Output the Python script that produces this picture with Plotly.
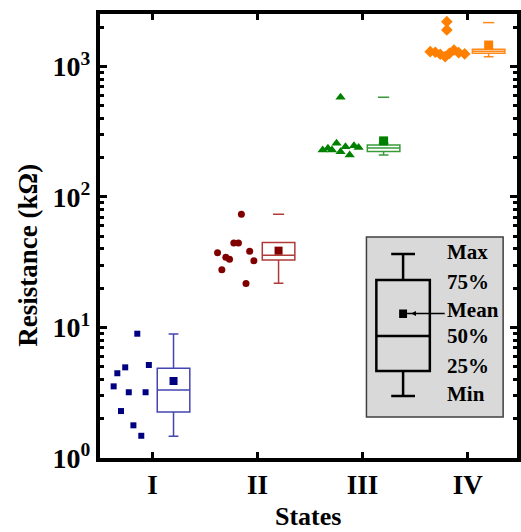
import plotly.graph_objects as go

# ---------------- data ----------------
categories = ["I", "II", "III", "IV"]
cat_pos = [1, 2, 3, 4]

vals_I = [8.96, 5.16, 4.95, 4.46, 3.54, 3.19, 3.19, 2.29, 1.78, 1.48]
jit_I = [-0.145, -0.035, -0.26, -0.335, -0.37, -0.226, -0.066, -0.30, -0.182, -0.107]
vals_II = [73.7, 44.4, 44.4, 37.4, 34.5, 33.3, 38.4, 32.5, 27.7, 21.7]
jit_II = [-0.154, -0.226, -0.182, -0.381, -0.302, -0.267, -0.075, -0.035, -0.340, -0.110]
vals_III = [229, 236, 229, 258, 222, 243, 210, 247, 239, 581]
jit_III = [-0.380, -0.330, -0.292, -0.248, -0.210, -0.163, -0.123, -0.082, -0.038, -0.210]
vals_IV = [1298, 1285, 1240, 1189, 1262, 1337, 1276, 1247, 2204, 1905]
jit_IV = [-0.356, -0.308, -0.261, -0.214, -0.173, -0.130, -0.085, -0.028, -0.198, -0.198]

# box statistics
box_q1 = [2.25, 32.9, 223, 1262]
box_med = [3.32, 35.8, 237, 1307]
box_q3 = [4.87, 44.7, 250, 1355]
box_low = [1.47, 21.8, 210, 1189]
box_high = [8.9, 44.7, 258, 1337]
box_mean = [3.89, 38.8, 269, 1460]
box_max = [None, 73.7, 581, 2168]

y_tickvals = [1, 10, 100, 1000]
y_ticktext = ["10<sup>0</sup>", "10<sup>1</sup>", "10<sup>2</sup>", "10<sup>3</sup>"]

# ---------------- styles ----------------
pt_colors = ["#000080", "#800000", "#008000", "#FF8000"]
box_colors = ["#4545B0", "#B03A3A", "#3A9A3A", "#FF8A1A"]
pt_symbols = ["square", "circle", "triangle-up", "diamond"]
pt_sizes = [6, 7, 9, 9]
mean_sizes = [8, 8, 9, 9]
BOX_OFF = 0.2
FONT = "Liberation Serif"

groups = [(vals_I, jit_I), (vals_II, jit_II), (vals_III, jit_III), (vals_IV, jit_IV)]

fig = go.Figure()

for i, (vals, jit) in enumerate(groups):
    fig.add_trace(go.Scatter(
        x=[cat_pos[i] + j for j in jit], y=vals, mode="markers",
        marker=dict(symbol=pt_symbols[i], size=pt_sizes[i], color=pt_colors[i], line=dict(width=0)),
        showlegend=False, hoverinfo="y"))
    fig.add_trace(go.Box(
        x=[cat_pos[i] + BOX_OFF], q1=[box_q1[i]], median=[box_med[i]], q3=[box_q3[i]],
        lowerfence=[box_low[i]], upperfence=[box_high[i]],
        width=0.31, whiskerwidth=0.3, boxpoints=False,
        line=dict(color=box_colors[i], width=1.5), fillcolor="rgba(255,255,255,1)",
        showlegend=False))
    fig.add_trace(go.Scatter(
        x=[cat_pos[i] + BOX_OFF], y=[box_mean[i]], mode="markers",
        marker=dict(symbol="square", size=mean_sizes[i], color=pt_colors[i], line=dict(width=0)),
        showlegend=False))
    if box_max[i] is not None:
        fig.add_trace(go.Scatter(
            x=[cat_pos[i] + BOX_OFF], y=[box_max[i]], mode="markers",
            marker=dict(symbol="line-ew", size=8, line=dict(color=box_colors[i], width=1.5)),
            showlegend=False))

# ---------------- layout ----------------
W, H = 521, 532
L, R, T, B = 100, 0, 14, 74
pw, ph = W - L - R, H - T - B


def px(xp):
    return (xp - L) / pw


def py(yp):
    return (H - B - yp) / ph


minor_vals = [m * 10 ** d for d in range(0, 4) for m in range(2, 10)]

fig.update_layout(
    width=W, height=H,
    margin=dict(l=L, r=R, t=T, b=B),
    plot_bgcolor="white", paper_bgcolor="white",
    showlegend=False,
    xaxis=dict(
        range=[0.5, 4.47], tickmode="array", tickvals=cat_pos, ticktext=categories,
        showline=True, linecolor="black", linewidth=4, mirror="ticks",
        ticks="inside", ticklen=6, tickwidth=3, tickcolor="black",
        showgrid=False, zeroline=False,
        tickfont=dict(family=FONT, size=27, color="black", weight="bold"),
    ),
    yaxis=dict(
        type="log", range=[0, 3.402], tickmode="array", tickvals=y_tickvals, ticktext=y_ticktext,
        showline=True, linecolor="black", linewidth=4, mirror="ticks",
        ticks="inside", ticklen=7, tickwidth=3, tickcolor="black",
        minor=dict(tickmode="array", tickvals=minor_vals, ticks="inside", ticklen=4,
                   tickwidth=2.5, tickcolor="black", showgrid=False),
        showgrid=False, zeroline=False,
        tickfont=dict(family=FONT, size=28, color="black", weight="bold"),
    ),
)

# axis titles
fig.add_annotation(text="States", xref="paper", yref="paper", x=px(310), y=py(516),
                   showarrow=False, xanchor="center", yanchor="middle",
                   font=dict(family=FONT, size=26, color="black", weight="bold"))
fig.add_annotation(text="Resistance (kΩ)", xref="paper", yref="paper", x=px(27), y=py(255),
                   showarrow=False, textangle=-90, xanchor="center", yanchor="middle",
                   font=dict(family=FONT, size=27, color="black", weight="bold"))

# ---------------- inset key ----------------
shapes = []
shapes.append(dict(type="rect", xref="paper", yref="paper", x0=px(369), x1=px(507), y0=py(237), y1=py(417),
                   fillcolor="#D9D9D9", line=dict(color="#404040", width=1.5), layer="above"))
blk = dict(color="black", width=2.5)
shapes.append(dict(type="rect", xref="paper", yref="paper", x0=px(379), x1=px(433), y0=py(280), y1=py(371),
                   line=blk, fillcolor="rgba(0,0,0,0)", layer="above"))
for (x0, y0, x1, y1) in [(379, 336, 433, 336), (406, 254, 406, 280), (394, 254, 418, 254),
                         (406, 371, 406, 396), (394, 396, 418, 396)]:
    shapes.append(dict(type="line", xref="paper", yref="paper", x0=px(x0), y0=py(y0), x1=px(x1), y1=py(y1),
                       line=blk, layer="above"))
shapes.append(dict(type="rect", xref="paper", yref="paper", x0=px(402), x1=px(410), y0=py(309.5), y1=py(318),
                   fillcolor="black", line=dict(width=0), layer="above"))
shapes.append(dict(type="line", xref="paper", yref="paper", x0=px(410), y0=py(313.5), x1=px(448), y1=py(313.5),
                   line=dict(color="black", width=1.5), layer="above"))
shapes.append(dict(type="path", xref="paper", yref="paper",
                   path=f"M {px(414)},{py(313.5)} L {px(419)},{py(311)} L {px(419)},{py(316)} Z",
                   fillcolor="black", line=dict(width=0), layer="above"))
fig.update_layout(shapes=shapes)

key_labels = ["Max", "75%", "Mean", "50%", "25%", "Min"]
key_y = [252, 282, 310, 336, 366, 394]
for lab, yy in zip(key_labels, key_y):
    fig.add_annotation(text=lab, xref="paper", yref="paper", x=px(448), y=py(yy),
                       showarrow=False, xanchor="left", yanchor="middle",
                       font=dict(family=FONT, size=21, color="black", weight="bold"))

fig.write_html("out.html")
